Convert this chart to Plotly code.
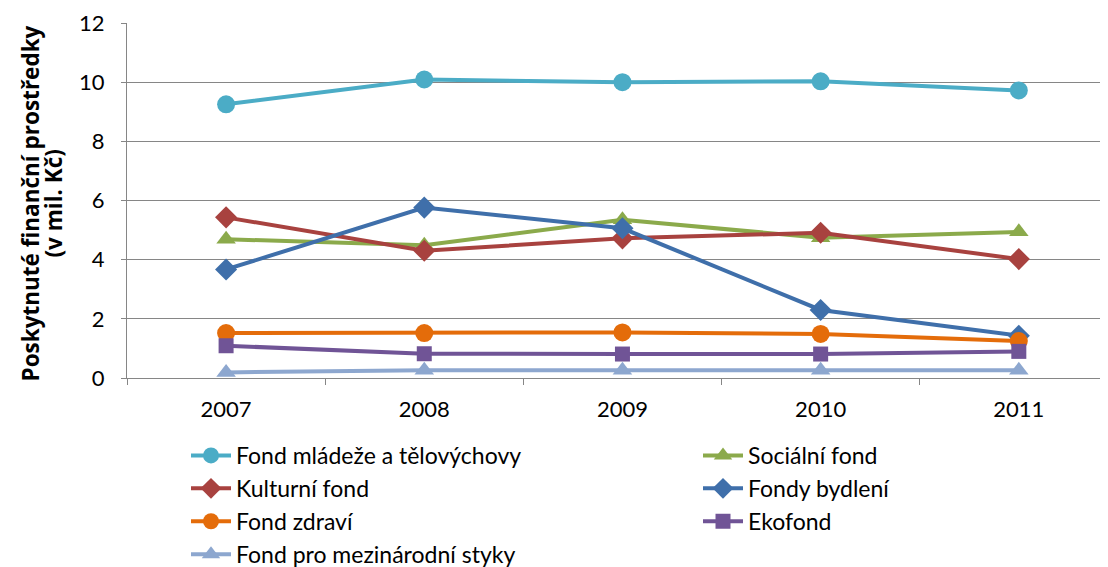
import plotly.graph_objects as go

years = ["2007", "2008", "2009", "2010", "2011"]
mladez = [9.25, 10.09, 10.0, 10.03, 9.72]
socialni = [4.69, 4.49, 5.35, 4.74, 4.94]
kulturni = [5.43, 4.30, 4.72, 4.91, 4.02]
bydleni = [3.67, 5.76, 5.06, 2.30, 1.43]
zdravi = [1.52, 1.52, 1.54, 1.49, 1.25]
ekofond = [1.09, 0.82, 0.81, 0.81, 0.90]
mezinarodni = [0.19, 0.26, 0.26, 0.26, 0.26]

y_title_1 = "Poskytnuté finanční prostředky"
y_title_2 = "(v mil. Kč)"

# name, values, colour, marker, size, legend column
series = [
    ("Fond mládeže a tělovýchovy", mladez, "#4BACC6", "circle", 18, "legend"),
    ("Sociální fond", socialni, "#8BAA4B", "triangle-up", 17, "legend2"),
    ("Kulturní fond", kulturni, "#A8423F", "diamond", 17, "legend"),
    ("Fondy bydlení", bydleni, "#3F6FAA", "diamond", 17, "legend2"),
    ("Fond zdraví", zdravi, "#E46C0A", "circle", 18, "legend"),
    ("Ekofond", ekofond, "#705496", "square", 15, "legend2"),
    ("Fond pro mezinárodní styky", mezinarodni, "#8DA7CF", "triangle-up", 17, "legend"),
]

FONT = "Lato, sans-serif"

# page body has an 8px margin; figure is laid out relative to that
W, H = 1100, 559
L, T, B = 119, 15, 189
PW = W - L
PH = H - T - B

fig = go.Figure()
for name, vals, col, sym, sz, leg in series:
    fig.add_trace(go.Scatter(
        x=years, y=vals, name=name, mode="lines+markers",
        line=dict(color=col, width=4),
        marker=dict(symbol=sym, size=sz, color=col),
        legend=leg,
    ))

legend_common = dict(
    orientation="v", xanchor="left", yanchor="top", y=-56 / PH,
    font=dict(family=FONT, size=23, color="#000000"),
    tracegroupgap=0, itemwidth=40, bgcolor="rgba(0,0,0,0)",
)

fig.update_layout(
    width=W, height=H,
    margin=dict(l=L, r=0, t=T, b=B, autoexpand=False),
    paper_bgcolor="white", plot_bgcolor="white",
    font=dict(family=FONT, size=22, color="#000000"),
    showlegend=True,
    legend=dict(x=59 / PW, **legend_common),
    legend2=dict(x=571 / PW, **legend_common),
    xaxis=dict(
        type="category", range=[-0.5, 4.45],
        showline=True, linecolor="#868686", linewidth=1,
        ticks="outside", ticklen=6, tickcolor="#868686", tickson="boundaries",
        showgrid=False, tickfont=dict(size=22), ticklabelstandoff=12,
    ),
    yaxis=dict(
        range=[0, 12], dtick=2,
        showline=True, linecolor="#868686", linewidth=1,
        ticks="outside", ticklen=5, tickcolor="#868686",
        showgrid=True, gridcolor="#868686", gridwidth=1,
        zeroline=False, tickfont=dict(size=22), ticklabelstandoff=12,
    ),
    annotations=[
        dict(text="<b>" + y_title_1 + "</b>", xref="paper", yref="paper",
             x=(22 - L) / PW, y=0.5 - 3 / PH, xanchor="center", yanchor="middle",
             textangle=-90, showarrow=False,
             font=dict(family="Open Sans", size=22.5, color="#000000")),
        dict(text="<b>" + y_title_2 + "</b>", xref="paper", yref="paper",
             x=(45 - L) / PW, y=0.5 - 3 / PH, xanchor="center", yanchor="middle",
             textangle=-90, showarrow=False,
             font=dict(family="Open Sans", size=22.5, color="#000000")),
    ],
)

fig.write_html("out.html")
